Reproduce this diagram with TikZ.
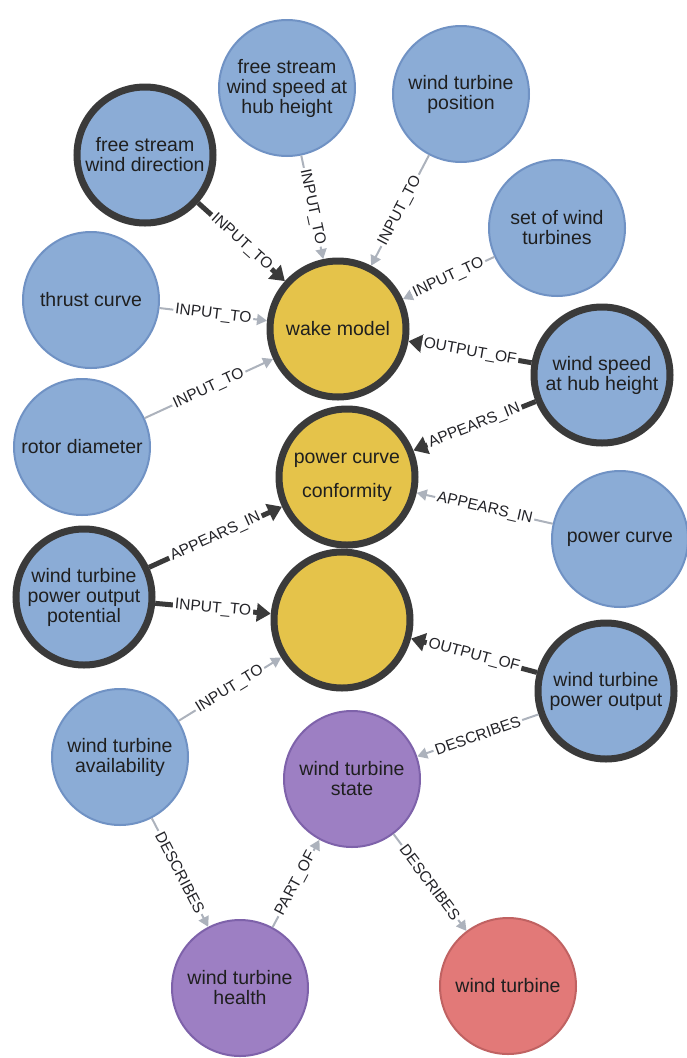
\documentclass[tikz,border=0pt]{standalone}
\usepackage{fontspec}
\setmainfont{Liberation Sans}
\usetikzlibrary{arrows.meta}
\definecolor{nodeblue}{RGB}{139, 172, 214}
\definecolor{bluerim}{RGB}{112, 146, 196}
\definecolor{modelyellow}{RGB}{229, 195, 74}
\definecolor{statepurple}{RGB}{157, 127, 195}
\definecolor{purplerim}{RGB}{126, 98, 170}
\definecolor{turbinered}{RGB}{226, 121, 120}
\definecolor{redrim}{RGB}{192, 98, 98}
\definecolor{ringgray}{RGB}{58, 58, 58}
\definecolor{edgegray}{RGB}{172, 178, 188}
\definecolor{labelgray}{RGB}{35, 35, 40}

\begin{document}
\begin{tikzpicture}[
  x=1pt, y=-1pt,
  concept/.style={circle, minimum size=136pt, inner sep=0pt, align=center,
                  text=black!88, font=\fontsize{19.5}{20}\selectfont, line width=2pt},
  param/.style={concept, fill=nodeblue, draw=bluerim},
  model/.style={concept, fill=modelyellow, draw=ringgray, line width=7pt},
  hilite/.style={draw=ringgray, line width=7pt},
  status/.style={concept, fill=statepurple, draw=purplerim},
  asset/.style={concept, fill=turbinered, draw=redrim},
  rel/.style={draw=edgegray, line width=2pt, -{Triangle[width=11pt, length=10pt]}},
  mainrel/.style={draw=ringgray, line width=5pt, -{Triangle[width=18pt, length=14pt]}},
  lbl/.style={sloped, fill=white, inner sep=2pt, text=labelgray,
              font=\fontsize{15.5}{16}\selectfont}
]
\useasboundingbox (0,0) rectangle (687,1058);

% Models
\node[model] (wake) at (338,329) {wake model};
\node[model] (pcc) at (347,477) {power curve\\[14pt]conformity};
\node[model] (unnamed) at (342,620) {};

% Wake model inputs
\node[param] (fsws) at (287,88) {free stream\\wind speed at\\hub height};
\node[param] (wtpos) at (461,94) {wind turbine\\position};
\node[param, hilite] (fswd) at (145,155) {free stream\\wind direction};
\node[param] (setwt) at (557,228) {set of wind\\turbines};
\node[param] (thrust) at (91,300) {thrust curve};
\node[param] (rotor) at (82,447) {rotor diameter};
\node[param, hilite] (wshh) at (602,375) {wind speed\\at hub height};

% Power quantities
\node[param] (pcurve) at (620,539) {power curve};
\node[param, hilite] (wtpop) at (84,597) {wind turbine\\power output\\potential};
\node[param, hilite] (wtpo) at (606,691) {wind turbine\\power output};
\node[param] (avail) at (120,757) {wind turbine\\availability};

% Turbine
\node[status] (state) at (352,779) {wind turbine\\state};
\node[status] (health) at (240,988) {wind turbine\\health};
\node[asset] (turbine) at (508,986) {wind turbine};

% Relations
\draw[mainrel] (fswd) -- node[lbl] {INPUT\_TO} (wake);
\draw[rel] (fsws) -- node[lbl] {INPUT\_TO} (wake);
\draw[rel] (wtpos) -- node[lbl] {INPUT\_TO} (wake);
\draw[rel] (setwt) -- node[lbl] {INPUT\_TO} (wake);
\draw[rel] (thrust) -- node[lbl] {INPUT\_TO} (wake);
\draw[rel] (rotor) -- node[lbl] {INPUT\_TO} (wake);
\draw[mainrel] (wshh) -- node[lbl] {OUTPUT\_OF} (wake);
\draw[mainrel] (wshh) -- node[lbl] {APPEARS\_IN} (pcc);
\draw[rel] (pcurve) -- node[lbl] {APPEARS\_IN} (pcc);
\draw[mainrel] (wtpop) -- node[lbl] {APPEARS\_IN} (pcc);
\draw[mainrel] (wtpop) -- node[lbl] {INPUT\_TO} (unnamed);
\draw[mainrel] (wtpo) -- node[lbl] {OUTPUT\_OF} (unnamed);
\draw[rel] (avail) -- node[lbl] {INPUT\_TO} (unnamed);
\draw[rel] (wtpo) -- node[lbl] {DESCRIBES} (state);
\draw[rel] (avail) -- node[lbl] {DESCRIBES} (health);
\draw[rel] (health) -- node[lbl] {PART\_OF} (state);
\draw[rel] (state) -- node[lbl] {DESCRIBES} (turbine);

\end{tikzpicture}
\end{document}
